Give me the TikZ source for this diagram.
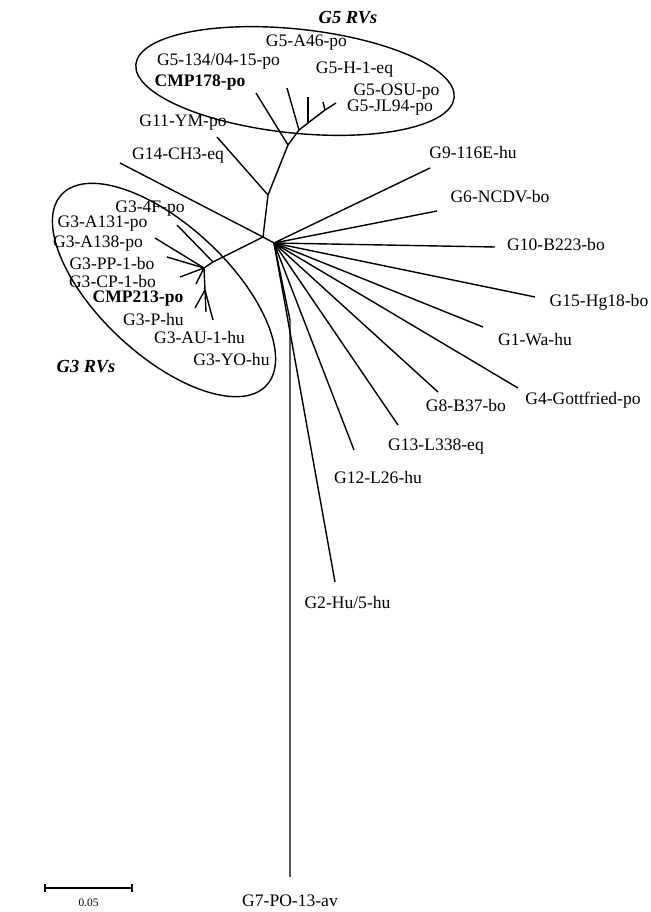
\documentclass[tikz,border=0pt]{standalone}
\usepackage{fontspec}
\setmainfont{Liberation Serif}
\usepackage{tikz}

\begin{document}
\begin{tikzpicture}[scale=0.2, line width=0.8pt,
  clade/.style={font=\fontsize{10.5}{12}\selectfont\bfseries\itshape},
  taxon/.style={font=\fontsize{10}{12}\selectfont},
  bartext/.style={font=\fontsize{6.5}{8}\selectfont}]
\tikzstyle{every node}+=[inner sep=0pt]
\useasboundingbox (0,0) rectangle (65,-91.2);
\coordinate (c0) at (26.3,-23.7);
\coordinate (c1) at (27.4,-24.3);
\coordinate (s1) at (26.8,-19.5);
\coordinate (s2) at (28.8,-14.5);
\coordinate (s3) at (29.9,-13.0);
\coordinate (s3a) at (30.8,-12.3);
\coordinate (s4) at (32.5,-11.0);
\coordinate (t178) at (25.6,-9.3);
\coordinate (t134) at (28.7,-8.8);
\coordinate (th1) at (30.8,-9.7);
\coordinate (tosu) at (32.3,-10.2);
\coordinate (tjl) at (33.6,-10.3);
\coordinate (t11) at (21.7,-13.7);
\coordinate (t14) at (12.0,-16.3);
\coordinate (n3) at (21.3,-26.2);
\coordinate (n3b) at (20.4,-26.8);
\coordinate (n3c) at (20.5,-29.0);
\coordinate (t4f) at (17.7,-22.5);
\coordinate (ta131) at (15.5,-23.8);
\coordinate (ta138) at (16.7,-25.7);
\coordinate (tpp) at (18.0,-27.7);
\coordinate (tcp) at (19.6,-28.4);
\coordinate (t213) at (19.5,-30.8);
\coordinate (tph) at (20.6,-31.2);
\coordinate (tau) at (21.3,-32.0);
\coordinate (t9) at (43.0,-16.8);
\coordinate (t6) at (43.7,-21.1);
\coordinate (t10) at (49.5,-24.7);
\coordinate (t15) at (53.5,-29.7);
\coordinate (t1) at (48.3,-32.7);
\coordinate (t4) at (51.8,-38.8);
\coordinate (t8) at (43.8,-39.2);
\coordinate (t13) at (39.8,-42.5);
\coordinate (t12) at (35.4,-45.0);
\coordinate (t2) at (33.5,-58.2);
\coordinate (k7) at (29.0,-32.0);
\coordinate (t7) at (29.0,-87.7);
\draw (c0) -- (c1);
\draw (c0) -- (s1) -- (s2) -- (s3) -- (s3a) -- (s4);
\draw (s2) -- (t178);
\draw (s3) -- (t134);
\draw (s3a) -- (th1);
\draw (s4) -- (tosu);
\draw (s4) -- (tjl);
\draw (s1) -- (t11);
\draw (c0) -- (t14);
\draw (c0) -- (n3) -- (n3b) -- (n3c);
\draw (n3) -- (t4f);
\draw (n3b) -- (ta131);
\draw (n3b) -- (ta138);
\draw (n3b) -- (tpp);
\draw (n3b) -- (tcp);
\draw (n3c) -- (t213);
\draw (n3c) -- (tph);
\draw (n3c) -- (tau);
\draw (c1) -- (t9);
\draw (c1) -- (t6);
\draw (c1) -- (t10);
\draw (c1) -- (t15);
\draw (c1) -- (t1);
\draw (c1) -- (t4);
\draw (c1) -- (t8);
\draw (c1) -- (t13);
\draw (c1) -- (t12);
\draw (c1) -- (t2);
\draw (c1) -- (k7) -- (t7);
\draw [black] (29.5,-8.1) ellipse [x radius=16, y radius=5.2, rotate=-6];
\draw [black] (16.4,-29.0) ellipse [x radius=14, y radius=6.5, rotate=-43];
\node [clade] (g5rv) at (34.8,-1.8) {G5 RVs};
\node [clade] (g3rv) at (8.6,-36.7) {G3 RVs};
\node [taxon] (l46) at (30.65,-4.3) {G5-A46-po};
\node [taxon] (l134) at (21.85,-6.2) {G5-134/04-15-po};
\node [taxon] (lh1) at (35.45,-7.0) {G5-H-1-eq};
\node [taxon] (l178) at (20.0,-8.3) {\textbf{CMP178-po}};
\node [taxon] (losu) at (39.65,-9.2) {G5-OSU-po};
\node [taxon] (ljl) at (39.0,-10.8) {G5-JL94-po};
\node [taxon] (l11) at (18.3,-12.3) {G11-YM-po};
\node [taxon] (l14) at (17.8,-15.6) {G14-CH3-eq};
\node [taxon] (l9) at (47.3,-15.2) {G9-116E-hu};
\node [taxon] (l6) at (50.0,-19.7) {G6-NCDV-bo};
\node [taxon] (l10) at (55.6,-24.4) {G10-B223-bo};
\node [taxon] (l15) at (59.9,-30.2) {G15-Hg18-bo};
\node [taxon] (l1) at (53.5,-34.0) {G1-Wa-hu};
\node [taxon] (l4) at (58.3,-40.0) {G4-Gottfried-po};
\node [taxon] (l8) at (46.6,-40.5) {G8-B37-bo};
\node [taxon] (l13) at (43.6,-44.7) {G13-L338-eq};
\node [taxon] (l12) at (37.8,-47.7) {G12-L26-hu};
\node [taxon] (l2) at (34.75,-60.2) {G2-Hu/5-hu};
\node [taxon] (l7) at (29.0,-90.1) {G7-PO-13-av};
\node [taxon] (l4f) at (15.0,-20.9) {G3-4F-po};
\node [taxon] (la131) at (10.25,-22.4) {G3-A131-po};
\node [taxon] (la138) at (9.8,-24.4) {G3-A138-po};
\node [taxon] (lpp) at (11.2,-26.3) {G3-PP-1-bo};
\node [taxon] (lcp) at (11.25,-28.1) {G3-CP-1-bo};
\node [taxon] (l213) at (13.8,-29.9) {\textbf{CMP213-po}};
\node [taxon] (lph) at (15.35,-31.9) {G3-P-hu};
\node [taxon] (lau) at (19.95,-33.7) {G3-AU-1-hu};
\node [taxon] (lyo) at (23.15,-35.9) {G3-YO-hu};
\coordinate (sb1) at (4.5,-88.8);
\coordinate (sb2) at (13.2,-88.8);
\draw (sb1) -- (sb2);
\draw (sb1) ++(0,0.4) -- ++(0,-0.8);
\draw (sb2) ++(0,0.4) -- ++(0,-0.8);
\node [bartext] (lsb) at (8.85,-90.3) {0.05};
\end{tikzpicture}
\end{document}
